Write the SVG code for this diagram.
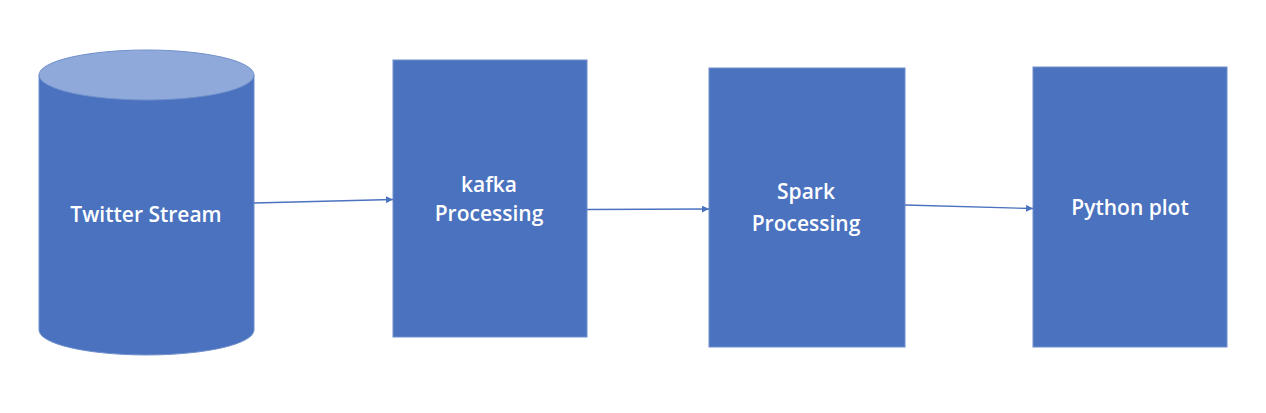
<svg xmlns="http://www.w3.org/2000/svg" width="1266" height="413" viewBox="0 0 1266 413">
<style>
.box{fill:#4A72BE;stroke:#6F8FCC;stroke-width:1}
.lbl{font-family:"Open Sans","Noto Sans",sans-serif;font-size:21px;font-weight:600;fill:#ffffff;text-anchor:middle}
.conn{stroke:#4A72BE;stroke-width:1.3;fill:none;marker-end:url(#ah)}
</style>
<defs>
<marker id="ah" viewBox="0 0 10 10" refX="10" refY="5" markerWidth="7" markerHeight="7" markerUnits="userSpaceOnUse" orient="auto">
<path d="M0,0 L10,5 L0,10 z" fill="#4A72BE"/>
</marker>
</defs>
<rect width="1266" height="413" fill="#ffffff"/>
<g id="twitter">
<path class="box" d="M39,75 L39,330 A107.5,25 0 0 0 254,330 L254,75 Z"/>
<ellipse cx="146.5" cy="75" rx="107.5" ry="25" fill="#8FA9DA" stroke="#6F8FCC" stroke-width="1"/>
<text class="lbl" x="146" y="222">Twitter Stream</text>
</g>
<g id="kafka">
<rect class="box" x="393" y="60" width="194" height="277"/>
<text class="lbl" x="489" y="192">kafka</text>
<text class="lbl" x="489" y="221">Processing</text>
</g>
<g id="spark">
<rect class="box" x="709" y="68" width="196" height="279"/>
<text class="lbl" x="806" y="199">Spark</text>
<text class="lbl" x="806" y="231">Processing</text>
</g>
<g id="python">
<rect class="box" x="1033" y="67" width="194" height="280"/>
<text class="lbl" x="1130" y="215">Python plot</text>
</g>
<g id="connectors">
<path class="conn" d="M254,203 L393,199.5"/>
<path class="conn" d="M587,209.5 L709,209"/>
<path class="conn" d="M905,205 L1033,208.5"/>
</g>
</svg>
